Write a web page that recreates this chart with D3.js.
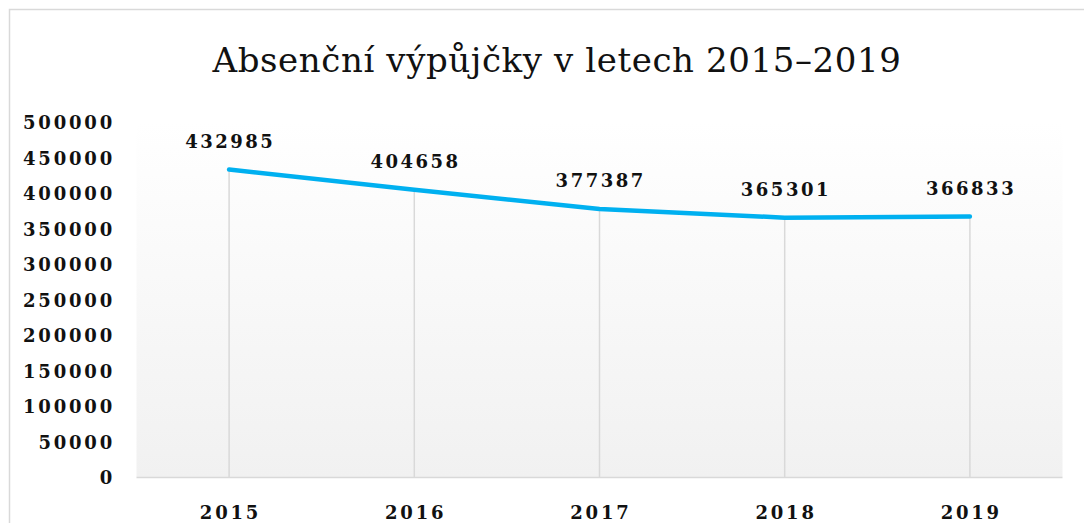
<!DOCTYPE html>
<html>
<head>
<meta charset="utf-8">
<script src="https://cdn.jsdelivr.net/npm/d3@7"></script>
<style>
  html, body { margin: 0; padding: 0; background: #fff; }
  svg { display: block; }
</style>
</head>
<body>
<div id="chart"></div>
<script>
const years = ["2015", "2016", "2017", "2018", "2019"];
const loans = [432985, 404658, 377387, 365301, 366833];
const yTicks = [0, 50000, 100000, 150000, 200000, 250000, 300000, 350000, 400000, 450000, 500000];
const title = "Absenční výpůjčky v letech 2015–2019";

const W = 1084, H = 523;
const margin = { top: 122, right: 22, bottom: 46, left: 136.5 };
const serif = "'DejaVu Serif', 'Liberation Serif', serif";

const svg = d3.select("#chart")
  .append("svg")
  .attr("width", W)
  .attr("height", H);

// chart frame
svg.append("rect")
  .attr("x", 9.5)
  .attr("y", 9.5)
  .attr("width", W + 20)
  .attr("height", H + 20)
  .attr("fill", "#fff")
  .attr("stroke", "#d9d9d9")
  .attr("stroke-width", 1.5);

const x = d3.scaleBand()
  .domain(years)
  .range([margin.left, 1062.5]);

const y = d3.scaleLinear()
  .domain([0, 500000])
  .range([477, margin.top]);

const defs = svg.append("defs");
const grad = defs.append("linearGradient")
  .attr("id", "plotFill")
  .attr("x1", 0).attr("y1", 0)
  .attr("x2", 0).attr("y2", 1);
grad.append("stop").attr("offset", "0%").attr("stop-color", "#ffffff");
grad.append("stop").attr("offset", "100%").attr("stop-color", "#f1f1f1");

svg.append("rect")
  .attr("x", x.range()[0])
  .attr("y", y(500000))
  .attr("width", x.range()[1] - x.range()[0])
  .attr("height", y(0) - y(500000))
  .attr("fill", "url(#plotFill)");

// title
svg.append("text")
  .attr("x", 557)
  .attr("y", 72)
  .attr("text-anchor", "middle")
  .attr("font-family", serif)
  .attr("font-size", 34)
  .attr("letter-spacing", 0.6)
  .attr("fill", "#111")
  .text(title);

const cx = (d) => x(d) + x.bandwidth() / 2;

// drop lines
svg.append("g")
  .selectAll("line")
  .data(years)
  .join("line")
  .attr("x1", (d) => cx(d))
  .attr("x2", (d) => cx(d))
  .attr("y1", (d, i) => y(loans[i]))
  .attr("y2", y(0))
  .attr("stroke", "#d9d9d9")
  .attr("stroke-width", 1.5);

// baseline
svg.append("line")
  .attr("x1", x.range()[0])
  .attr("x2", x.range()[1])
  .attr("y1", y(0) + 0.5)
  .attr("y2", y(0) + 0.5)
  .attr("stroke", "#d9d9d9")
  .attr("stroke-width", 1.5);

// y labels (x nudged for trailing letter-spacing)
svg.append("g")
  .selectAll("text")
  .data(yTicks)
  .join("text")
  .attr("x", 115)
  .attr("y", (d) => y(d) + 7)
  .attr("text-anchor", "end")
  .attr("font-family", serif)
  .attr("font-weight", "bold")
  .attr("font-size", 18)
  .attr("letter-spacing", 2.8)
  .attr("fill", "#111")
  .text((d) => d);

// x labels
svg.append("g")
  .selectAll("text")
  .data(years)
  .join("text")
  .attr("x", (d) => cx(d) + 1.4)
  .attr("y", 519)
  .attr("text-anchor", "middle")
  .attr("font-family", serif)
  .attr("font-weight", "bold")
  .attr("font-size", 18)
  .attr("letter-spacing", 2.8)
  .attr("fill", "#111")
  .text((d) => d);

// line
const line = d3.line()
  .x((d, i) => cx(years[i]))
  .y((d) => y(d));

svg.append("path")
  .datum(loans)
  .attr("d", line)
  .attr("fill", "none")
  .attr("stroke", "#00b0f0")
  .attr("stroke-width", 4.5)
  .attr("stroke-linecap", "round")
  .attr("stroke-linejoin", "round");

// data labels
svg.append("g")
  .selectAll("text")
  .data(loans)
  .join("text")
  .attr("x", (d, i) => cx(years[i]) + 1.2)
  .attr("y", (d) => y(d) - 22)
  .attr("text-anchor", "middle")
  .attr("font-family", serif)
  .attr("font-weight", "bold")
  .attr("font-size", 18)
  .attr("letter-spacing", 2.5)
  .attr("fill", "#111")
  .text((d) => d);
</script>
</body>
</html>
